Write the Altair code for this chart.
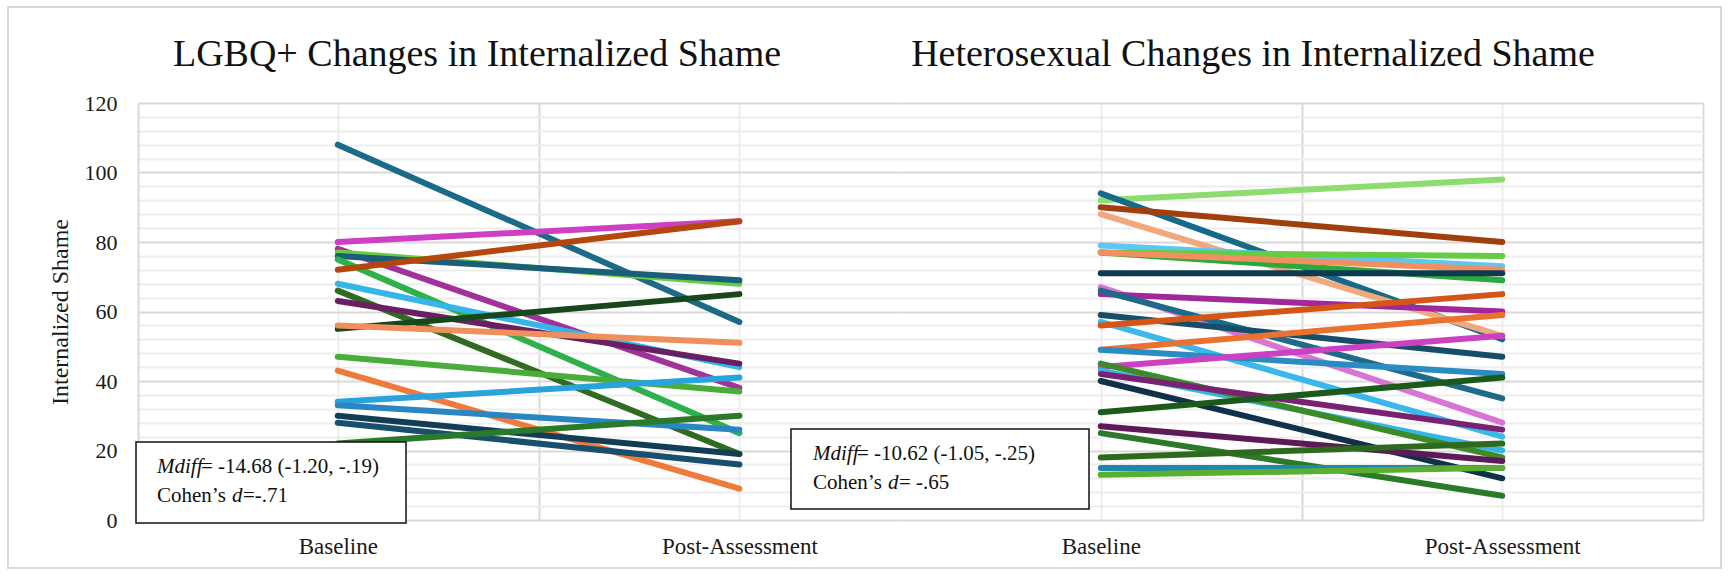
import altair as alt
import pandas as pd

# x positions of the two assessment points
phases = ["Baseline", "Post-Assessment"]

# LGBQ+ participants: internalized shame at baseline and post-assessment
lgbq_baseline = [108, 80, 78, 77, 76, 75, 72, 68, 66, 63, 55, 56, 47, 43, 34, 33, 30, 28, 22]
lgbq_post = [57, 86, 38, 68, 69, 25, 86, 44, 19, 45, 65, 51, 37, 9, 41, 26, 19, 16, 30]
lgbq_colors = [
    "#1b6a87", "#cf3fc4", "#a03298", "#66cc44", "#1a5e78", "#2eb04a", "#b4470e",
    "#35b6ea", "#2f6b21", "#6a1f62", "#17471a", "#ef8f5c", "#4aac3a", "#ef7a3c",
    "#2aa3dd", "#2a86c2", "#123d56", "#184f6c", "#2b7a2b",
]

# Heterosexual participants
hetero_baseline = [92, 94, 90, 88, 79, 77, 77, 77, 71, 67, 65, 66, 59, 57, 56, 49, 49,
                   44, 43, 45, 42, 40, 31, 27, 25, 18, 15, 13]
hetero_post = [98, 52, 80, 53, 73, 76, 69, 72, 71, 28, 60, 35, 47, 24, 65, 59, 42,
               53, 20, 18, 26, 12, 41, 17, 7, 22, 15, 15]
hetero_colors = [
    "#8cdc70", "#156a8a", "#9e3f0c", "#f0a87c", "#5cc8f0", "#66cc44", "#2aaa3a",
    "#f09060", "#0e3a50", "#d874d4", "#a0289a", "#1e6a8a", "#164e6a", "#3ab8ec",
    "#d45518", "#ea7230", "#2a8cc0", "#cc40c2", "#33b5e5", "#3c8a2a", "#7a2272",
    "#0f3248", "#1c5a1c", "#5e1a58", "#2a7a2a", "#2e6a1e", "#1a88b0", "#5aaf30",
]

SERIF = "Liberation Serif"
MAJOR = "#d9d9d9"
MINOR = "#ededed"
one_row = pd.DataFrame({"k": [0]})

y_ticks = list(range(0, 121, 4))
x_label_expr = (
    f"datum.value === 0 ? '{phases[0]}' : datum.value === 1 ? '{phases[1]}' : ''"
)


def long_table(prefix, baseline, post):
    ids = [f"{prefix}{i + 1:02d}" for i in range(len(baseline))]
    rows = []
    for sid, b, p in zip(ids, baseline, post):
        rows.append({"sid": sid, "t": 0, "value": b})
        rows.append({"sid": sid, "t": 1, "value": p})
    return ids, pd.DataFrame(rows)


def text(txt, x, y, size=21, italic=False, align="left"):
    kw = dict(font=SERIF, fontSize=size, align=align, baseline="alphabetic", color="#111111")
    if italic:
        kw["fontStyle"] = "italic"
    return alt.Chart(one_row).mark_text(**kw).encode(
        x=alt.value(x), y=alt.value(y), text=alt.value(txt)
    )


def note(box, x0, y0, mdiff_rest, d_rest):
    rect = alt.Chart(one_row).mark_rect(fill="white", stroke="#111111", strokeWidth=1.5).encode(
        x=alt.value(box[0]), x2=alt.value(box[1]), y=alt.value(box[2]), y2=alt.value(box[3])
    )
    return [
        rect,
        text("Mdiff", x0, y0, italic=True),
        text(mdiff_rest, x0 + 44, y0),
        text("Cohen\u2019s", x0, y0 + 29),
        text("d", x0 + 75, y0 + 29, italic=True),
        text(d_rest, x0 + 86, y0 + 29),
    ]


def panel(prefix, baseline, post, colors, x_domain, x_values, show_y):
    ids, df = long_table(prefix, baseline, post)
    grid_color = alt.condition(
        "datum.value === 0.5 || datum.value === 1.5", alt.value(MAJOR), alt.value(MINOR)
    )
    x_axis = alt.Axis(
        values=x_values, labelExpr=x_label_expr, title=None, domain=False, ticks=False,
        grid=True, gridColor=grid_color, gridWidth=2, labelFont=SERIF, labelFontSize=23,
        labelColor="#1a1a1a", labelPadding=15, labelOverlap=False,
    )
    y_grid = alt.condition("datum.value % 20 === 0", alt.value(MAJOR), alt.value(MINOR))
    if show_y:
        y_axis = alt.Axis(
            values=y_ticks, labelExpr="datum.value % 20 === 0 ? datum.label : ''",
            labelOverlap=False, grid=True, gridColor=y_grid, gridWidth=2, ticks=False,
            domain=True, domainColor=MAJOR, domainWidth=2, labelFont=SERIF,
            labelFontSize=22, labelColor="#1a1a1a", labelPadding=21,
            title="Internalized Shame", titleFont=SERIF, titleFontSize=24,
            titleFontWeight="normal", titleColor="#1a1a1a", titlePadding=12,
        )
    else:
        y_axis = alt.Axis(
            values=y_ticks, labels=False, ticks=False, domain=False, grid=True,
            gridColor=y_grid, gridWidth=2, title=None,
        )
    return alt.Chart(df).mark_line(strokeWidth=6, strokeCap="round").encode(
        x=alt.X("t:Q", scale=alt.Scale(domain=x_domain, nice=False, zero=False), axis=x_axis),
        y=alt.Y("value:Q", scale=alt.Scale(domain=[0, 120], nice=False), axis=y_axis),
        color=alt.Color("sid:N", scale=alt.Scale(domain=ids, range=colors), legend=None),
        detail="sid:N",
    )


left_lines = panel("L", lgbq_baseline, lgbq_post, lgbq_colors, [-0.4975, 1.4], [0, 0.5, 1], True)
right_lines = panel("H", hetero_baseline, hetero_post, hetero_colors, [-0.5, 1.5], [0, 0.5, 1, 1.5], False)

# light outer frame around both panels
frame = alt.Chart(one_row).mark_rect(fillOpacity=0, stroke="#d9d9d9", strokeWidth=2).encode(
    x=alt.value(-130), x2=alt.value(1583), y=alt.value(-96), y2=alt.value(465)
)

left = alt.layer(
    frame,
    left_lines,
    *note((-2, 268, 339, 420), 19, 370, "= -14.68 (-1.20, -.19)", "=-.71"),
    text("LGBQ+ Changes in Internalized Shame", 339, -37, size=38, align="center"),
).properties(width=762, height=417)

right = alt.layer(
    right_lines,
    *note((-109, 189, 326, 406), -87, 357, "= -10.62 (-1.05, -.25)", "= -.65"),
    text("Heterosexual Changes in Internalized Shame", 353, -37, size=38, align="center"),
).properties(width=803, height=417)

chart = (
    alt.hconcat(left, right, spacing=0, bounds="flush")
    .resolve_scale(color="independent", x="independent", y="independent")
    .properties(padding={"left": 7, "top": 6, "right": 0, "bottom": 0}, background="white")
    .configure_view(strokeWidth=0)
)

chart.save("out.html", embed_options={"renderer": "svg", "actions": False})
